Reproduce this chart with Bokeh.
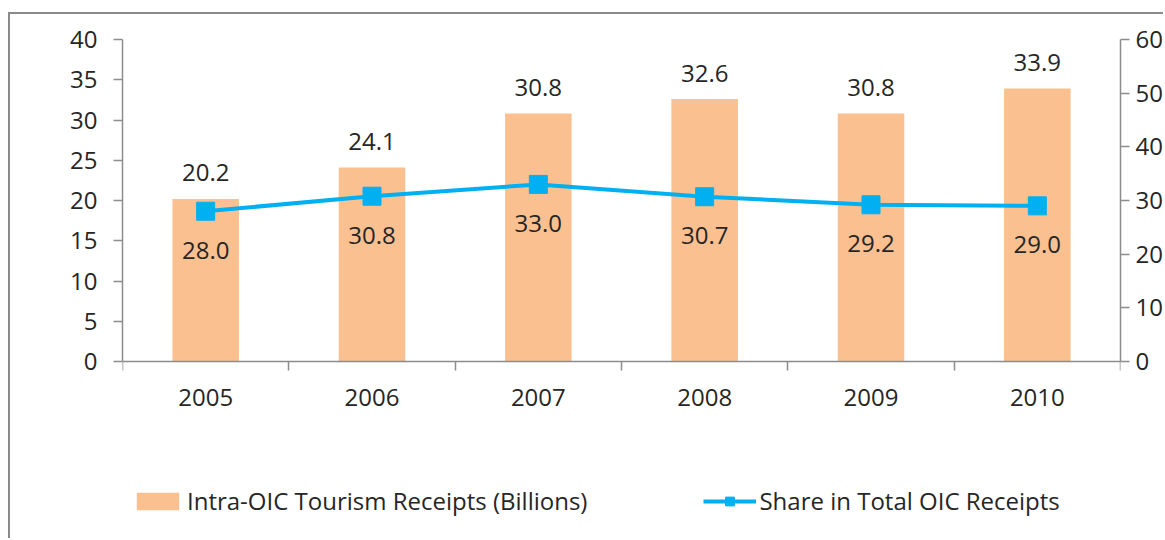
from bokeh.plotting import figure
from bokeh.models import Range1d, LinearAxis, FixedTicker, Legend, LegendItem, ColumnDataSource
from bokeh.core.properties import value
from bokeh.embed import file_html
from bokeh.resources import INLINE

years = ["2005", "2006", "2007", "2008", "2009", "2010"]
receipts = [20.2, 24.1, 30.8, 32.6, 30.8, 33.9]
share = [28.0, 30.8, 33.0, 30.7, 29.2, 29.0]
left_ticks = [0, 5, 10, 15, 20, 25, 30, 35, 40]
right_ticks = [0, 10, 20, 30, 40, 50, 60]

FONT = "Open Sans"
TXT = "#262626"
AX = "#8c8c8c"
BAR = "#FAC090"
LINE = "#00B0F0"

# frame extends below the zero line to host the legend (px below zero / px per unit)
below_frac = 169 / 322.0
lmin = -below_frac * left_ticks[-1]
rmin = -below_frac * right_ticks[-1]

xs = [i + 0.5 for i in range(len(years))]
src = ColumnDataSource(dict(
    x=xs, receipts=receipts, share=share,
    rlab=[f"{v:.1f}" for v in receipts],
    slab=[f"{v:.1f}" for v in share],
))

p = figure(width=1155, height=526, output_backend="svg", toolbar_location=None,
           x_range=Range1d(0, len(years)), y_range=Range1d(lmin, left_ticks[-1]),
           min_border_left=112, min_border_right=42, min_border_top=25, min_border_bottom=10,
           x_axis_location=None, y_axis_location=None)
p.margin = (12, 0, 0, 8)
p.styles = {"border-left": "2px solid #8a8a8a", "border-top": "2px solid #8a8a8a"}
p.outline_line_color = None
p.xgrid.visible = False
p.ygrid.visible = False
p.extra_y_ranges = {"share": Range1d(rmin, right_ticks[-1])}

def style_axis(ax):
    ax.axis_line_color = AX
    ax.major_tick_line_color = AX
    ax.minor_tick_line_color = AX
    ax.major_tick_in = 0
    ax.major_tick_out = 9
    ax.minor_tick_in = 0
    ax.minor_tick_out = 0
    ax.major_label_text_font = FONT
    ax.major_label_text_font_size = "24px"
    ax.major_label_text_color = TXT
    ax.axis_line_width = 1.5
    ax.major_tick_line_width = 1.5
    ax.minor_tick_line_width = 1.5

yl = LinearAxis(ticker=FixedTicker(ticks=left_ticks), bounds=(left_ticks[0], left_ticks[-1]))
style_axis(yl)
yl.major_label_standoff = 16
p.add_layout(yl, "left")

yr = LinearAxis(y_range_name="share", ticker=FixedTicker(ticks=right_ticks),
                bounds=(right_ticks[0], right_ticks[-1]))
style_axis(yr)
yr.major_label_standoff = 6
p.add_layout(yr, "right")

xa = LinearAxis(ticker=FixedTicker(ticks=xs, minor_ticks=list(range(len(years) + 1))),
                fixed_location=0)
style_axis(xa)
xa.major_tick_out = 0
xa.minor_tick_out = 9
xa.major_label_standoff = 18
xa.major_label_overrides = {x: y for x, y in zip(xs, years)}
p.add_layout(xa, "below")

bars = p.vbar(x="x", top="receipts", width=0.4, source=src, color=BAR, line_color=None)
ln = p.line(x="x", y="share", source=src, y_range_name="share", line_color=LINE, line_width=4)
mk = p.scatter(x="x", y="share", source=src, y_range_name="share", marker="square",
               size=18, fill_color=LINE, line_color=LINE)

p.text(x="x", y="receipts", text="rlab", source=src, text_align="center",
       text_baseline="middle", y_offset=-26, text_font=value(FONT),
       text_font_size="24px", text_color=TXT)
p.text(x="x", y="share", text="slab", source=src, y_range_name="share", text_align="center",
       text_baseline="middle", y_offset=39, text_font=value(FONT),
       text_font_size="24px", text_color=TXT)

legend = Legend(items=[
    LegendItem(label="Intra-OIC Tourism Receipts (Billions)", renderers=[bars]),
    LegendItem(label="Share in Total OIC Receipts", renderers=[ln, mk]),
], location=(9, 13), orientation="horizontal")
legend.glyph_width = 53
legend.glyph_height = 22
legend.label_height = 22
legend.label_standoff = 3
legend.spacing = 116
legend.padding = 0
legend.margin = 0
legend.border_line_color = None
legend.background_fill_alpha = 0
legend.label_text_font = FONT
legend.label_text_font_size = "24px"
legend.label_text_color = TXT
p.add_layout(legend, "center")

open("out.html", "w").write(file_html(p, INLINE))
